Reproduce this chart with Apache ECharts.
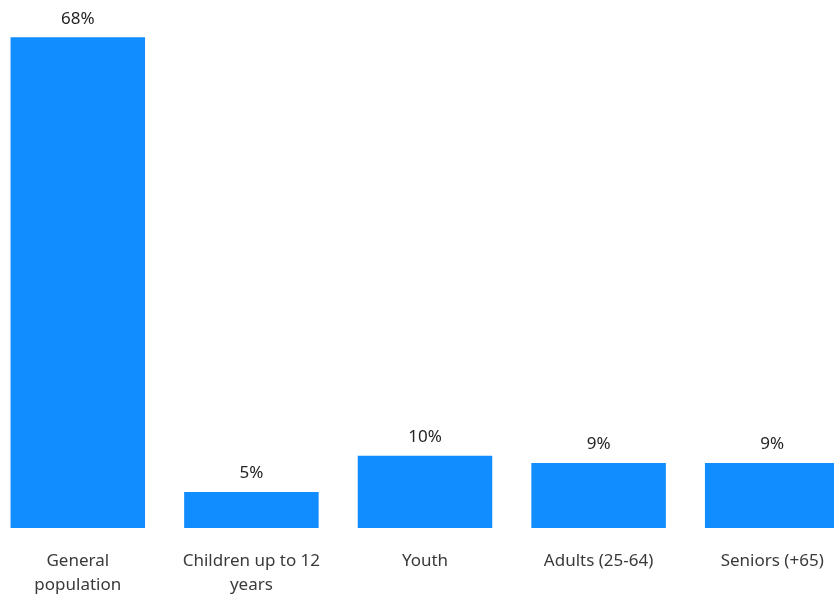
<!DOCTYPE html>
<html>
<head>
<meta charset="utf-8">
<style>
  html, body { margin: 0; padding: 0; background: #ffffff; overflow: hidden; }
  #wrap { width: 834px; height: 597px; overflow: hidden; position: relative; }
  /* plot area runs slightly past both edges of the window */
  #chart { width: 867.5px; height: 597px; position: absolute; left: -9.25px; top: 0; }
</style>
<script src="https://cdn.jsdelivr.net/npm/echarts@6/dist/echarts.min.js"></script>
</head>
<body>
<div id="wrap"><div id="chart"></div></div>
<script>
// Share of each group, in percent
const categories = [
  'General\npopulation',
  'Children up to 12\nyears',
  'Youth',
  'Adults (25-64)',
  'Seniors (+65)'
];
const shares = [68, 5, 10, 9, 9];

const chart = echarts.init(document.getElementById('chart'));
const font = '"Noto Sans", "Open Sans", sans-serif';

chart.setOption({
  animation: false,
  grid: { left: 0, right: 0, top: 37.3, bottom: 68.7, containLabel: false },
  xAxis: {
    type: 'category',
    data: categories,
    axisLine: { show: false },
    axisTick: { show: false },
    axisLabel: {
      interval: 0,
      margin: 21,
      color: '#3b3a39',
      fontFamily: font,
      fontSize: 17,
      lineHeight: 24
    }
  },
  yAxis: {
    type: 'value',
    min: 0,
    max: 68,
    show: false,
    splitLine: { show: false }
  },
  series: [{
    type: 'bar',
    data: shares,
    barWidth: 134.5,
    itemStyle: { color: '#118DFF' },
    label: {
      show: true,
      position: 'top',
      distance: 10,
      color: '#252423',
      fontFamily: font,
      fontSize: 17,
      formatter: p => p.value + '%'
    }
  }]
});
</script>
</body>
</html>
